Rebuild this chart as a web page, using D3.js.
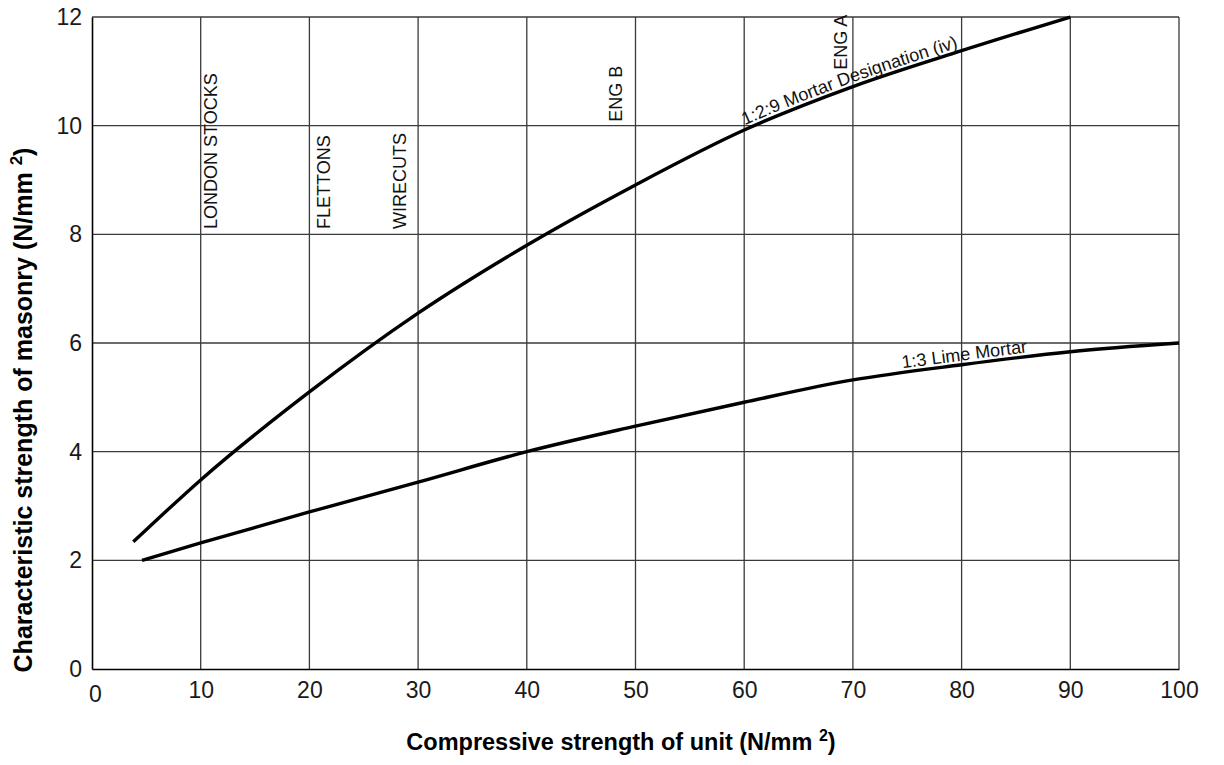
<!DOCTYPE html>
<html>
<head>
<meta charset="utf-8">
<script src="https://cdn.jsdelivr.net/npm/d3@7"></script>
<style>
  body { margin: 0; background: #fff; }
  svg { display: block; font-family: "Liberation Sans", Arial, Helvetica, sans-serif; }
  .grid line { stroke: #3a3a3a; stroke-width: 1.3; }
  .tick text { font-size: 23px; fill: #1a1a1a; }
  .anno { font-size: 18px; fill: #111; }
  .title { font-weight: bold; fill: #000; }
</style>
</head>
<body>
<div id="chart"></div>
<script>
  // values
  const mortarX = [3.8, 10, 20, 30, 40, 50, 60, 70, 80, 90];
  const mortarY = [2.34, 3.48, 5.10, 6.55, 7.80, 8.91, 9.92, 10.72, 11.38, 12.0];
  const limeX = [4.6, 10, 20, 30, 40, 50, 60, 70, 80, 90, 100];
  const limeY = [2.0, 2.32, 2.89, 3.44, 4.0, 4.47, 4.91, 5.32, 5.6, 5.84, 6.0];

  const xTicks = [0, 10, 20, 30, 40, 50, 60, 70, 80, 90, 100];
  const yTicks = [0, 2, 4, 6, 8, 10, 12];

  // unit types marked on the chart (x = unit strength, y = where the label ends)
  const unitNames = ["LONDON STOCKS", "FLETTONS", "WIRECUTS", "ENG B", "ENG A"];
  const unitX = [10.9, 21.3, 28.3, 48.2, 68.9];
  const unitY = [8.1, 8.1, 8.1, 10.07, 11.03];

  const curveNames = ["1:2:9 Mortar Designation (iv)", "1:3 Lime Mortar"];
  const curveLabelStart = [60.2, 74.6];

  const width = 1224, height = 765;
  const margin = { top: 17, right: 45, bottom: 96, left: 92 };

  const svg = d3.select("#chart").append("svg")
    .attr("width", width)
    .attr("height", height);

  const x = d3.scaleLinear().domain([0, 100]).range([margin.left, width - margin.right]);
  const y = d3.scaleLinear().domain([0, 12]).range([height - margin.bottom, margin.top]);

  // grid
  const grid = svg.append("g").attr("class", "grid");
  grid.selectAll("line.v")
    .data(xTicks.slice(1))
    .enter().append("line")
    .attr("class", "v")
    .attr("x1", d => x(d)).attr("x2", d => x(d))
    .attr("y1", y(0)).attr("y2", y(12));
  grid.selectAll("line.h")
    .data(yTicks.slice(1))
    .enter().append("line")
    .attr("class", "h")
    .attr("x1", x(0)).attr("x2", x(100))
    .attr("y1", d => y(d)).attr("y2", d => y(d));

  // axes
  const xAxis = svg.append("g")
    .attr("transform", `translate(0,${y(0)})`)
    .call(d3.axisBottom(x).tickValues(xTicks).tickSize(0).tickPadding(13));
  xAxis.select(".domain").attr("stroke", "#000").attr("stroke-width", 1.6);
  xAxis.selectAll(".tick text")
    .filter(d => d === 0)
    .attr("dx", 3).attr("dy", "0.85em");

  const yAxis = svg.append("g")
    .attr("transform", `translate(${x(0)},0)`)
    .call(d3.axisLeft(y).tickValues(yTicks).tickSize(0).tickPadding(10));
  yAxis.select(".domain").attr("stroke", "#000").attr("stroke-width", 1.6);

  // curves
  const line = d3.line()
    .x(d => x(d[0]))
    .y(d => y(d[1]))
    .curve(d3.curveMonotoneX);

  const series = [
    d3.zip(mortarX, mortarY),
    d3.zip(limeX, limeY)
  ];

  series.forEach((pts, i) => {
    const path = svg.append("path")
      .datum(pts)
      .attr("id", `curve-${i}`)
      .attr("fill", "none")
      .attr("stroke", "#000")
      .attr("stroke-width", 3.4)
      .attr("d", line);

    // find the length along the path where the label starts
    const node = path.node();
    const total = node.getTotalLength();
    const target = x(curveLabelStart[i]);
    let lo = 0, hi = total;
    for (let k = 0; k < 40; k++) {
      const mid = (lo + hi) / 2;
      if (node.getPointAtLength(mid).x < target) lo = mid; else hi = mid;
    }

    svg.append("text")
      .attr("class", "anno")
      .attr("dy", -4)
      .append("textPath")
      .attr("href", `#curve-${i}`)
      .attr("startOffset", lo)
      .text(curveNames[i]);
  });

  // vertical unit-type labels
  svg.selectAll("text.unit")
    .data(unitNames)
    .enter().append("text")
    .attr("class", "anno unit")
    .attr("transform", (d, i) => `translate(${x(unitX[i])},${y(unitY[i])}) rotate(-90)`)
    .attr("dy", "0.36em")
    .text(d => d);

  // axis titles
  svg.append("text")
    .attr("class", "title")
    .attr("font-size", 23.5)
    .attr("x", 621)
    .attr("y", 750)
    .attr("text-anchor", "middle")
    .html('Compressive strength of unit (N/mm <tspan dy="-9" font-size="16">2</tspan><tspan dy="9">)</tspan>');

  svg.append("text")
    .attr("class", "title")
    .attr("font-size", 25)
    .attr("transform", "translate(32,410) rotate(-90)")
    .attr("text-anchor", "middle")
    .html('Characteristic strength of masonry (N/mm <tspan dy="-10" font-size="17">2</tspan><tspan dy="10">)</tspan>');
</script>
</body>
</html>
